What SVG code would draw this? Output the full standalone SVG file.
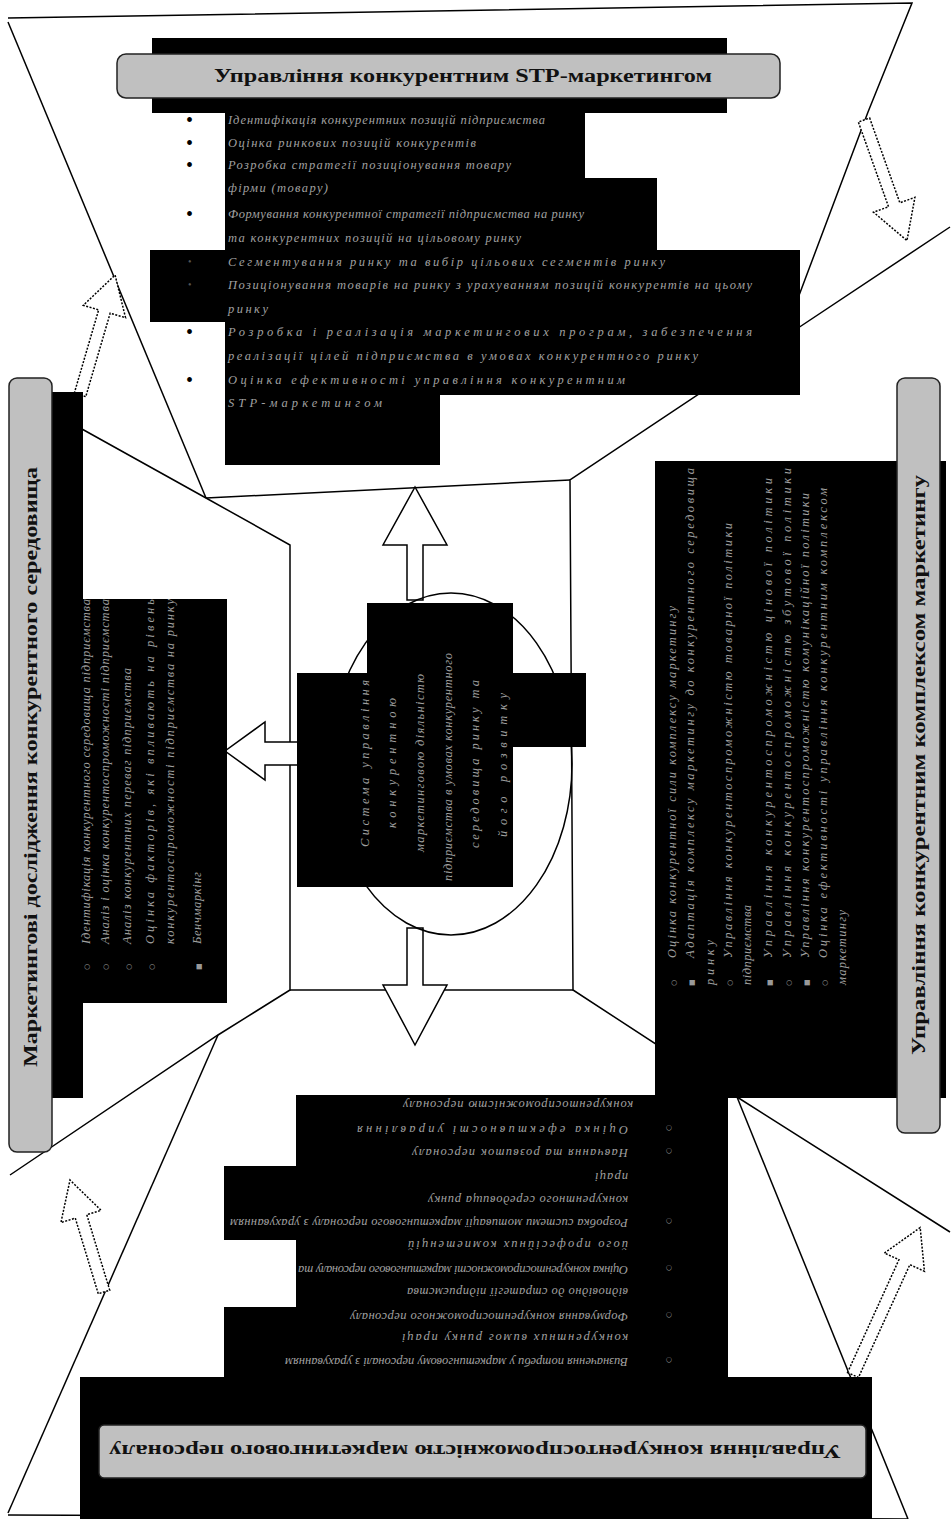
<svg xmlns="http://www.w3.org/2000/svg" width="951" height="1519" viewBox="0 0 951 1519">
<style>
.bk{fill:#000}
.gb{fill:#c0c0c0;stroke:#222;stroke-width:1.5}
.ttl{font-family:"Liberation Serif",serif;font-weight:bold;font-size:18px;fill:#111}
.tx{font-family:"Liberation Serif",serif;font-style:italic;font-size:12.5px;fill:#a0a0a0}
.bl{font-family:"Liberation Serif",serif;font-size:20px;fill:#000}
.bf{font-family:"Liberation Serif",serif;font-size:10px;fill:#555}
.bg{font-family:"DejaVu Sans",sans-serif;font-size:7px;fill:#999}
.ln{stroke:#000;stroke-width:1.5;fill:none}
.da{fill:#fff;stroke:#000;stroke-width:1.5;stroke-dasharray:2 1.5}
.ba{fill:#fff;stroke:#000;stroke-width:1.5}
</style>
<rect width="951" height="1519" fill="#fff"/>

<g id="connectors">
  <polyline class="ln" points="8,18 912,3 868,112 783,338"/>
  <line class="ln" x1="8" y1="22" x2="206" y2="498"/>
  <polyline class="ln" points="950,227 783,338 570,480 573,990 737,1097 950,1232"/>
  <polyline class="ln" points="10,389 206,498 290,545 290,990 218,1035 10,1175"/>
  <line class="ln" x1="206" y1="498" x2="570" y2="480"/>
  <line class="ln" x1="290" y1="990" x2="573" y2="990"/>
  <line class="ln" x1="8" y1="1513" x2="218" y2="1035"/>
  <line class="ln" x1="8" y1="1515" x2="908" y2="1519"/>
  <line class="ln" x1="737" y1="1097" x2="908" y2="1519"/>
  <polygon class="da" transform="translate(80,395) rotate(-73.7)" points="0,-6 87,-6 87,-22 125,0 87,22 87,6 0,6"/>
  <polygon class="da" transform="translate(864,120) rotate(70.4)" points="0,-6 90,-6 90,-22 128,0 90,22 90,6 0,6"/>
  <polygon class="da" transform="translate(104,1292) rotate(-106.9)" points="0,-6 79,-6 79,-21 117,0 79,21 79,6 0,6"/>
  <polygon class="da" transform="translate(853,1375) rotate(-65.5)" points="0,-6 124,-6 124,-22 162,0 124,22 124,6 0,6"/>
  <polygon class="ba" points="407,600 407,545 383,545 415,487 447,545 423,545 423,600"/>
  <polygon class="ba" points="407,928 407,985 383,985 415,1045 447,985 423,985 423,928"/>
  <polygon class="ba" points="300,742 265,742 265,722 225,751 265,780 265,765 300,765"/>
</g>

<g id="center">
  <ellipse class="ln" cx="451" cy="764" rx="121" ry="171"/>
  <rect class="bk" x="367" y="603" width="146" height="284"/>
  <rect class="bk" x="297" y="673" width="216" height="214"/>
  <rect class="bk" x="297" y="673" width="289" height="74"/>
  <text class="tx" transform="translate(369,847) rotate(-90)" textLength="167" lengthAdjust="spacing">Система управління</text>
  <text class="tx" transform="translate(396,828) rotate(-90)" textLength="130" lengthAdjust="spacing">конкурентною</text>
  <text class="tx" transform="translate(424,852) rotate(-90)" textLength="178" lengthAdjust="spacing">маркетинговою діяльністю</text>
  <text class="tx" transform="translate(452,881) rotate(-90)" textLength="228" lengthAdjust="spacing">підприємства в умовах конкурентного</text>
  <text class="tx" transform="translate(479,848) rotate(-90)" textLength="168" lengthAdjust="spacing">середовища ринку та</text>
  <text class="tx" transform="translate(507,837) rotate(-90)" textLength="144" lengthAdjust="spacing">його розвитку</text>
</g>

<g id="node-top">
  <rect class="bk" x="152" y="38" width="575" height="75"/>
  <rect class="bk" x="225" y="110" width="360" height="70"/>
  <rect class="bk" x="225" y="178" width="432" height="74"/>
  <rect class="bk" x="150" y="250" width="650" height="72"/>
  <rect class="bk" x="225" y="320" width="575" height="75"/>
  <rect class="bk" x="225" y="393" width="215" height="72"/>
  <rect class="gb" x="117" y="54" width="663" height="44" rx="9"/>
  <text class="ttl" x="463" y="82" text-anchor="middle" textLength="498" lengthAdjust="spacingAndGlyphs">Управління конкурентним STP-маркетингом</text>
  <text class="bl" x="186" y="127">•</text>
  <text class="bl" x="186" y="150">•</text>
  <text class="bl" x="186" y="172">•</text>
  <text class="bl" x="186" y="221">•</text>
  <text class="bf" x="188" y="265">•</text>
  <text class="bf" x="188" y="288">•</text>
  <text class="bl" x="186" y="339">•</text>
  <text class="bl" x="186" y="387">•</text>
  <text class="tx" x="228" y="124" textLength="317" lengthAdjust="spacing">Ідентифікація конкурентних позицій підприємства</text>
  <text class="tx" x="228" y="147" textLength="248" lengthAdjust="spacing">Оцінка ринкових позицій конкурентів</text>
  <text class="tx" x="228" y="169" textLength="283" lengthAdjust="spacing">Розробка стратегії позиціонування товару</text>
  <text class="tx" x="228" y="192" textLength="100" lengthAdjust="spacing">фірми (товару)</text>
  <text class="tx" x="228" y="218" textLength="356" lengthAdjust="spacing">Формування конкурентної стратегії підприємства на ринку</text>
  <text class="tx" x="228" y="242" textLength="293" lengthAdjust="spacing">та конкурентних позицій на цільовому ринку</text>
  <text class="tx" x="228" y="266" textLength="437" lengthAdjust="spacing">Сегментування ринку та вибір цільових сегментів ринку</text>
  <text class="tx" x="228" y="289" textLength="524" lengthAdjust="spacing">Позиціонування товарів на ринку з урахуванням позицій конкурентів на цьому</text>
  <text class="tx" x="228" y="313" textLength="40" lengthAdjust="spacing">ринку</text>
  <text class="tx" x="228" y="336" textLength="524" lengthAdjust="spacing">Розробка і реалізація маркетингових програм, забезпечення</text>
  <text class="tx" x="228" y="360" textLength="470" lengthAdjust="spacing">реалізації цілей підприємства в умовах конкурентного ринку</text>
  <text class="tx" x="228" y="384" textLength="397" lengthAdjust="spacing">Оцінка ефективності управління конкурентним</text>
  <text class="tx" x="228" y="407" textLength="154" lengthAdjust="spacing">STP-маркетингом</text>
</g>

<g id="node-left">
  <rect class="bk" x="52" y="392" width="31" height="706"/>
  <rect class="bk" x="70" y="599" width="157" height="404"/>
  <rect class="gb" x="9" y="378" width="43" height="774" rx="8"/>
  <text class="ttl" transform="translate(37,767) rotate(-90)" text-anchor="middle" textLength="600" lengthAdjust="spacingAndGlyphs">Маркетингові дослідження  конкурентного середовища</text>
  <text class="bg" transform="translate(89,970) rotate(-90)">○</text>
  <text class="bg" transform="translate(108,970) rotate(-90)">○</text>
  <text class="bg" transform="translate(131,970) rotate(-90)">○</text>
  <text class="bg" transform="translate(154,970) rotate(-90)">○</text>
  <text class="bg" transform="translate(201,970) rotate(-90)">■</text>
  <text class="tx" transform="translate(90,944) rotate(-90)" textLength="345" lengthAdjust="spacing">Ідентифікація конкурентного середовища підприємства</text>
  <text class="tx" transform="translate(109,944) rotate(-90)" textLength="345" lengthAdjust="spacing">Аналіз і оцінка конкурентоспроможності підприємства</text>
  <text class="tx" transform="translate(131,944) rotate(-90)" textLength="276" lengthAdjust="spacing">Аналіз конкурентних переваг підприємства</text>
  <text class="tx" transform="translate(154,944) rotate(-90)" textLength="345" lengthAdjust="spacing">Оцінка факторів, які впливають на рівень</text>
  <text class="tx" transform="translate(174,944) rotate(-90)" textLength="345" lengthAdjust="spacing">конкурентоспроможності підприємства на ринку</text>
  <text class="tx" transform="translate(201,944) rotate(-90)" textLength="72" lengthAdjust="spacing">Бенчмаркінг</text>
</g>

<g id="node-right">
  <rect class="bk" x="655" y="461" width="291" height="637"/>
  <rect class="gb" x="897" y="378" width="43" height="755" rx="8"/>
  <text class="ttl" transform="translate(925,765) rotate(-90)" text-anchor="middle" textLength="580" lengthAdjust="spacingAndGlyphs">Управління  конкурентним комплексом маркетингу</text>
  <text class="bg" transform="translate(676,986) rotate(-90)">○</text>
  <text class="bg" transform="translate(694,986) rotate(-90)">■</text>
  <text class="bg" transform="translate(732,986) rotate(-90)">○</text>
  <text class="bg" transform="translate(772,986) rotate(-90)">■</text>
  <text class="bg" transform="translate(791,986) rotate(-90)">○</text>
  <text class="bg" transform="translate(809,986) rotate(-90)">■</text>
  <text class="bg" transform="translate(827,986) rotate(-90)">○</text>
  <text class="tx" transform="translate(676,958) rotate(-90)" textLength="352" lengthAdjust="spacing">Оцінка конкурентної сили комплексу маркетингу</text>
  <text class="tx" transform="translate(694,958) rotate(-90)" textLength="490" lengthAdjust="spacing">Адаптація комплексу маркетингу до конкурентного середовища</text>
  <text class="tx" transform="translate(714,985) rotate(-90)" textLength="45" lengthAdjust="spacing">ринку</text>
  <text class="tx" transform="translate(732,958) rotate(-90)" textLength="435" lengthAdjust="spacing">Управління конкурентоспроможністю товарної політики</text>
  <text class="tx" transform="translate(751,985) rotate(-90)" textLength="80" lengthAdjust="spacing">підприємства</text>
  <text class="tx" transform="translate(772,958) rotate(-90)" textLength="480" lengthAdjust="spacing">Управління конкурентоспроможністю цінової політики</text>
  <text class="tx" transform="translate(791,958) rotate(-90)" textLength="490" lengthAdjust="spacing">Управління конкурентоспроможністю збутової політики</text>
  <text class="tx" transform="translate(809,958) rotate(-90)" textLength="465" lengthAdjust="spacing">Управління конкурентоспроможністю комунікаційної політики</text>
  <text class="tx" transform="translate(827,958) rotate(-90)" textLength="470" lengthAdjust="spacing">Оцінка ефективності управління конкурентним комплексом</text>
  <text class="tx" transform="translate(846,985) rotate(-90)" textLength="75" lengthAdjust="spacing">маркетингу</text>
</g>

<g id="node-bottom">
  <rect class="bk" x="296" y="1095" width="432" height="283"/>
  <rect class="bk" x="224" y="1166" width="74" height="74"/>
  <rect class="bk" x="224" y="1307" width="74" height="71"/>
  <rect class="bk" x="80" y="1377" width="792" height="142"/>
  <rect class="gb" x="99" y="1425" width="767" height="53" rx="5"/>
  <text class="ttl" transform="translate(475,1445) rotate(180)" text-anchor="middle" textLength="732" lengthAdjust="spacingAndGlyphs">Управління  конкурентоспроможністю маркетингового  персоналу</text>
  <text class="bg" transform="translate(672,1358) rotate(180)">○</text>
  <text class="bg" transform="translate(672,1313) rotate(180)">○</text>
  <text class="bg" transform="translate(672,1266) rotate(180)">○</text>
  <text class="bg" transform="translate(672,1219) rotate(180)">○</text>
  <text class="bg" transform="translate(672,1149) rotate(180)">○</text>
  <text class="bg" transform="translate(672,1126) rotate(180)">○</text>
  <text class="tx" transform="translate(628,1358) rotate(180)" textLength="343" lengthAdjust="spacing">Визначення потреби у маркетинговому персоналі з урахуванням</text>
  <text class="tx" transform="translate(628,1334) rotate(180)" textLength="226" lengthAdjust="spacing">конкурентних вимог ринку праці</text>
  <text class="tx" transform="translate(628,1313) rotate(180)" textLength="278" lengthAdjust="spacing">Формування конкурентоспроможного персоналу</text>
  <text class="tx" transform="translate(628,1288) rotate(180)" textLength="221" lengthAdjust="spacing">відповідно до стратегії підприємства</text>
  <text class="tx" transform="translate(628,1266) rotate(180)" textLength="330" lengthAdjust="spacing">Оцінка конкурентоспроможності маркетингового персоналу та</text>
  <text class="tx" transform="translate(628,1241) rotate(180)" textLength="220" lengthAdjust="spacing">його професійних компетенцій</text>
  <text class="tx" transform="translate(628,1219) rotate(180)" textLength="398" lengthAdjust="spacing">Розробка системи мотивації маркетингового персоналу з урахуванням</text>
  <text class="tx" transform="translate(628,1196) rotate(180)" textLength="200" lengthAdjust="spacing">конкурентного середовища ринку</text>
  <text class="tx" transform="translate(628,1173) rotate(180)" textLength="33" lengthAdjust="spacing">праці</text>
  <text class="tx" transform="translate(628,1149) rotate(180)" textLength="216" lengthAdjust="spacing">Навчання та розвиток персоналу</text>
  <text class="tx" transform="translate(628,1126) rotate(180)" textLength="271" lengthAdjust="spacing">Оцінка ефективності управління</text>
  <text class="tx" transform="translate(633,1101) rotate(180)" textLength="230" lengthAdjust="spacing">конкурентоспроможністю персоналу</text>
</g>
</svg>
